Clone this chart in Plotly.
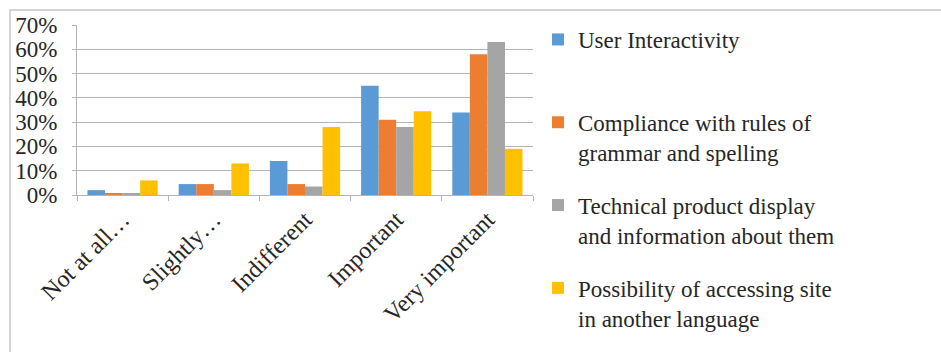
import plotly.graph_objects as go

# Survey answers: share of respondents per importance level
categories = ["Not at all…", "Slightly…", "Indifferent", "Important", "Very important"]

series_names = [
    "User Interactivity",
    "Compliance with rules of<br>grammar and spelling",
    "Technical product display<br>and information about them",
    "Possibility of accessing site<br>in another language",
]

user_interactivity = [0.02, 0.045, 0.14, 0.45, 0.34]
grammar_spelling = [0.005, 0.045, 0.045, 0.31, 0.58]
technical_display = [0.005, 0.02, 0.035, 0.28, 0.63]
other_language = [0.06, 0.13, 0.28, 0.345, 0.19]

y_ticks = [0, 0.1, 0.2, 0.3, 0.4, 0.5, 0.6, 0.7]
y_tick_labels = ["0%", "10%", "20%", "30%", "40%", "50%", "60%", "70%"]

colors = ["#5B9BD5", "#ED7D31", "#A5A5A5", "#FFC000"]
font_family = "Liberation Serif, Times New Roman, serif"
grid_color = "#B4B4B4"

W, H = 941, 352
left, right, top, bottom = 77, 533, 25, 195

fig = go.Figure()
values = [user_interactivity, grammar_spelling, technical_display, other_language]
for i, (name, vals) in enumerate(zip(series_names, values)):
    # single-line entries get an empty second line so every legend slot has equal height
    label = name if "<br>" in name else name + "<br> "
    fig.add_trace(go.Bar(
        x=categories, y=vals, name=label,
        marker=dict(color=colors[i], line=dict(width=0)),
        legendgroup=f"g{i}",
    ))

pw = right - left
ph = bottom - top
legend_left, legend_top = 538, 18

fig.update_layout(
    width=W, height=H,
    margin=dict(l=left, r=W - right, t=top, b=H - bottom, pad=0),
    paper_bgcolor="white", plot_bgcolor="white",
    barmode="group", bargap=0.23, bargroupgap=0,
    font=dict(family=font_family, size=23, color="#262626"),
    showlegend=True,
    legend=dict(
        x=(legend_left - left) / pw, y=(bottom - legend_top) / ph,
        xanchor="left", yanchor="top",
        valign="top", tracegroupgap=20, maxheight=340,
        font=dict(family=font_family, size=23, color="#262626"),
        itemwidth=30, bgcolor="rgba(0,0,0,0)",
    ),
    xaxis=dict(
        tickangle=-45, ticks="outside", tickson="boundaries", ticklen=5,
        tickcolor=grid_color, showline=True, linecolor=grid_color, linewidth=1,
        showgrid=False, tickfont=dict(size=24),
    ),
    yaxis=dict(
        range=[0, 0.7], tickvals=y_ticks, ticktext=y_tick_labels,
        ticks="outside", ticklen=4, tickcolor=grid_color,
        showgrid=True, gridcolor=grid_color, gridwidth=1,
        showline=True, linecolor=grid_color, linewidth=1,
        zeroline=False, tickfont=dict(size=23), ticklabelstandoff=10,
    ),
    shapes=[dict(
        type="rect", xref="paper", yref="paper",
        x0=(10 - left) / pw, x1=(W + 5 - left) / pw,
        y0=(bottom - (H + 5)) / ph, y1=(bottom - 10) / ph,
        line=dict(color="#C8C8C8", width=1.5), fillcolor="rgba(0,0,0,0)", layer="below",
    )],
)

fig.write_html("out.html")
